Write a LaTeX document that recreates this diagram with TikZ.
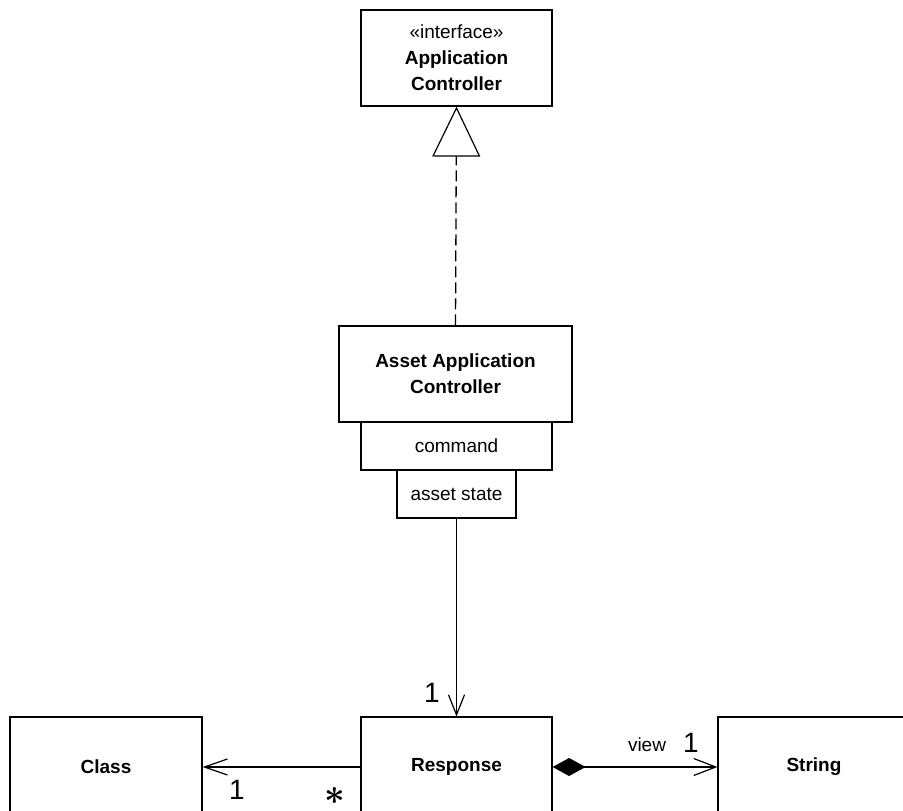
\documentclass[tikz,border=0pt]{standalone}
\usepackage{fontspec}
\setmainfont{Liberation Sans}
\usetikzlibrary{arrows.meta}
\begin{document}
\begin{tikzpicture}[x=1pt,y=-1pt,
  box/.style={draw, line width=1.2pt, inner sep=0pt, align=center,
    font=\fontsize{19}{26}\selectfont},
  conn/.style={line width=1.3pt, draw=black},
  mult/.style={font=\fontsize{28}{28}\selectfont, inner sep=0pt},
  lbl/.style={font=\fontsize{19}{19}\selectfont, inner sep=0pt}]
\useasboundingbox (0,0) rectangle (903,811);
\node[box, minimum width=191pt, minimum height=96pt] (top) at (456.5,58)
  {«interface»\\\textbf{Application}\\\textbf{Controller}};
\node[box, minimum width=233pt, minimum height=96pt] (asset) at (455.5,374)
  {\textbf{Asset Application}\\\textbf{Controller}};
\node[box, minimum width=191pt, minimum height=48pt] (cmd) at (456.5,446) {command};
\node[box, minimum width=119pt, minimum height=48pt] (state) at (456.5,494) {asset state};
\node[box, minimum width=192pt, minimum height=100pt] (class) at (106,767) {\textbf{Class}};
\node[box, minimum width=191pt, minimum height=100pt] (resp) at (456.5,767) {\textbf{Response}};
\node[box, minimum width=192pt, minimum height=100pt] (str) at (814,767) {\textbf{String}};

\draw[conn, dash pattern=on 11pt off 5pt,
  -{Triangle[open, length=50pt, width=48pt, line width=1.2pt]}]
  (asset.north) -- (top.south);
\draw[conn, -{Straight Barb[length=20pt, width=16pt, line width=1.2pt]}]
  (state.south) -- (resp.north);
\draw[conn, -{Straight Barb[length=23pt, width=16pt, line width=1.2pt]}]
  (resp.west) -- (class.east);
\draw[conn, {Diamond[length=33pt, width=18pt]}-{Straight Barb[length=22pt, width=17pt, line width=1.2pt]}]
  (resp.east) -- (str.west);

\node[mult] (m1) at (432,693) {1};
\node[mult] (m2) at (237,790) {1};
\node[font=\fontsize{10}{10}\selectfont\boldmath, inner sep=0pt, scale=3.6] (m3) at (335,796) {$\ast$};
\node[lbl] (v) at (647,745) {view};
\node[mult] (m4) at (691,743) {1};
\end{tikzpicture}
\end{document}
